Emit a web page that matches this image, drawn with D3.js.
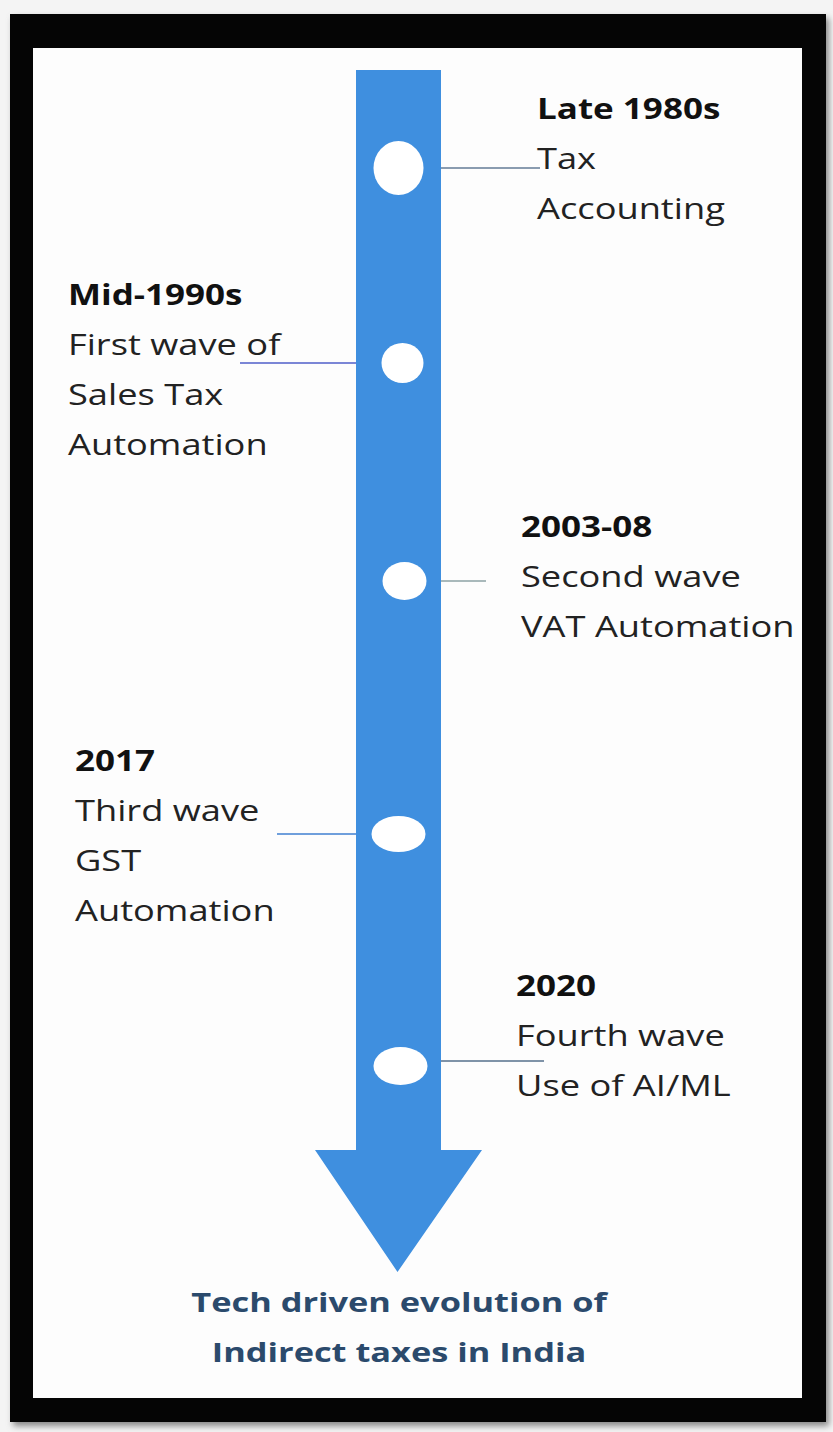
<!DOCTYPE html>
<html>
<head>
<meta charset="utf-8">
<script src="https://cdn.jsdelivr.net/npm/d3@7"></script>
<style>
  html, body { margin: 0; padding: 0; background: #f4f4f4; }
  svg { display: block; }
  .era { font-family: "Open Sans", sans-serif; font-weight: 700; fill: #111; }
  .desc { font-family: "Open Sans", sans-serif; font-weight: 400; fill: #222; }
  .title { font-family: "Open Sans", sans-serif; font-weight: 700; fill: #2b4a6c; }
</style>
</head>
<body>
<svg id="chart" width="833" height="1432"></svg>
<script>
// milestones along the timeline
var eras = ['Late 1980s', 'Mid-1990s', '2003-08', '2017', '2020'];
var descriptions = [
  ['Tax', 'Accounting'],
  ['First wave of', 'Sales Tax', 'Automation'],
  ['Second wave', 'VAT Automation'],
  ['Third wave', 'GST', 'Automation'],
  ['Fourth wave', 'Use of AI/ML']
];
var sides = ['right', 'left', 'right', 'left', 'right'];
var titleLines = ['Tech driven evolution of', 'Indirect taxes in India'];

var svg = d3.select('#chart');

var frame = { x0: 10, y0: 14, x1: 826, y1: 1422 };
var shaft = { left: 356, right: 441, top: 70, headTop: 1150, headLeft: 315, headRight: 482, tip: 1272 };
var lineHeight = 50;
var stretch = 1.25; // the source picture is a bit wider than tall

var idx = d3.range(eras.length);
// timeline slots, spacing as in the picture
var y = d3.scaleLinear().domain(idx).range([168, 363, 581, 834, 1066]);
var labelY = d3.scaleLinear().domain(idx).range([119, 305, 537, 771, 996]);
var cx = (shaft.left + shaft.right) / 2;

// frame
var defs = svg.append('defs');
var blur = defs.append('filter').attr('id', 'shadow').attr('x', '-5%').attr('y', '-5%').attr('width', '110%').attr('height', '110%');
blur.append('feGaussianBlur').attr('stdDeviation', 3);

svg.append('rect')
  .attr('x', frame.x0 + 3).attr('y', frame.y0 + 4)
  .attr('width', frame.x1 - frame.x0).attr('height', frame.y1 - frame.y0)
  .attr('fill', '#888').attr('filter', 'url(#shadow)');
svg.append('rect')
  .attr('x', frame.x0).attr('y', frame.y0)
  .attr('width', frame.x1 - frame.x0).attr('height', frame.y1 - frame.y0)
  .attr('fill', '#050505');
svg.append('rect')
  .attr('x', 33).attr('y', 48)
  .attr('width', 802 - 33).attr('height', 1398 - 48)
  .attr('fill', '#fdfdfd');

// arrow
var p = d3.path();
p.moveTo(shaft.left, shaft.top);
p.lineTo(shaft.right, shaft.top);
p.lineTo(shaft.right, shaft.headTop);
p.lineTo(shaft.headRight, shaft.headTop);
p.lineTo(cx - 1, shaft.tip);
p.lineTo(shaft.headLeft, shaft.headTop);
p.lineTo(shaft.left, shaft.headTop);
p.closePath();
svg.append('path')
  .attr('d', p.toString())
  .attr('fill', '#3f8fdf');

// connectors
var connectorEnd = [540, 240, 486, 277, 544];
var connectorColor = ['#8a9cb0', '#7b86d6', '#a9b9bb', '#6f9fdc', '#7f93a8'];
svg.append('g').attr('class', 'connectors')
  .selectAll('line')
  .data(idx)
  .enter()
  .append('line')
  .attr('x1', function (i) { return sides[i] === 'right' ? shaft.right : shaft.left; })
  .attr('x2', function (i) { return connectorEnd[i]; })
  .attr('y1', function (i) { return y(i) - (i === 4 ? 5 : 0); })
  .attr('y2', function (i) { return y(i) - (i === 4 ? 5 : 0); })
  .attr('stroke', function (i) { return connectorColor[i]; })
  .attr('stroke-width', 2);

// dots
var dotR = [[25, 27], [21, 20], [22, 19], [27, 18], [27, 19]];
svg.append('g').attr('class', 'dots')
  .selectAll('ellipse')
  .data(idx)
  .enter()
  .append('ellipse')
  .attr('cx', function (i) { return cx + [0, 4, 6, 0, 2][i]; })
  .attr('cy', function (i) { return y(i); })
  .attr('rx', function (i) { return dotR[i][0]; })
  .attr('ry', function (i) { return dotR[i][1]; })
  .attr('fill', '#ffffff');

// labels
var labelX = [537, 68, 521, 75, 516];
var labels = svg.append('g').attr('class', 'labels')
  .selectAll('g')
  .data(idx)
  .enter()
  .append('g')
  .attr('transform', function (i) {
    return 'translate(' + labelX[i] + ',' + labelY(i) + ') scale(' + stretch + ',1)';
  });

labels.append('text')
  .attr('class', 'era')
  .attr('font-size', 28)
  .text(function (i) { return eras[i]; });

labels.each(function (i) {
  d3.select(this).selectAll('text.desc')
    .data(descriptions[i])
    .enter()
    .append('text')
    .attr('class', 'desc')
    .attr('font-size', 29)
    .attr('y', function (d, j) { return (j + 1) * lineHeight; })
    .text(String);
});

// caption
svg.append('g')
  .attr('transform', 'translate(' + 399 + ',' + 1312 + ') scale(' + stretch + ',1)')
  .selectAll('text')
  .data(titleLines)
  .enter()
  .append('text')
  .attr('class', 'title')
  .attr('font-size', 27.5)
  .attr('text-anchor', 'middle')
  .attr('y', function (d, j) { return j * lineHeight; })
  .text(String);
</script>
</body>
</html>
